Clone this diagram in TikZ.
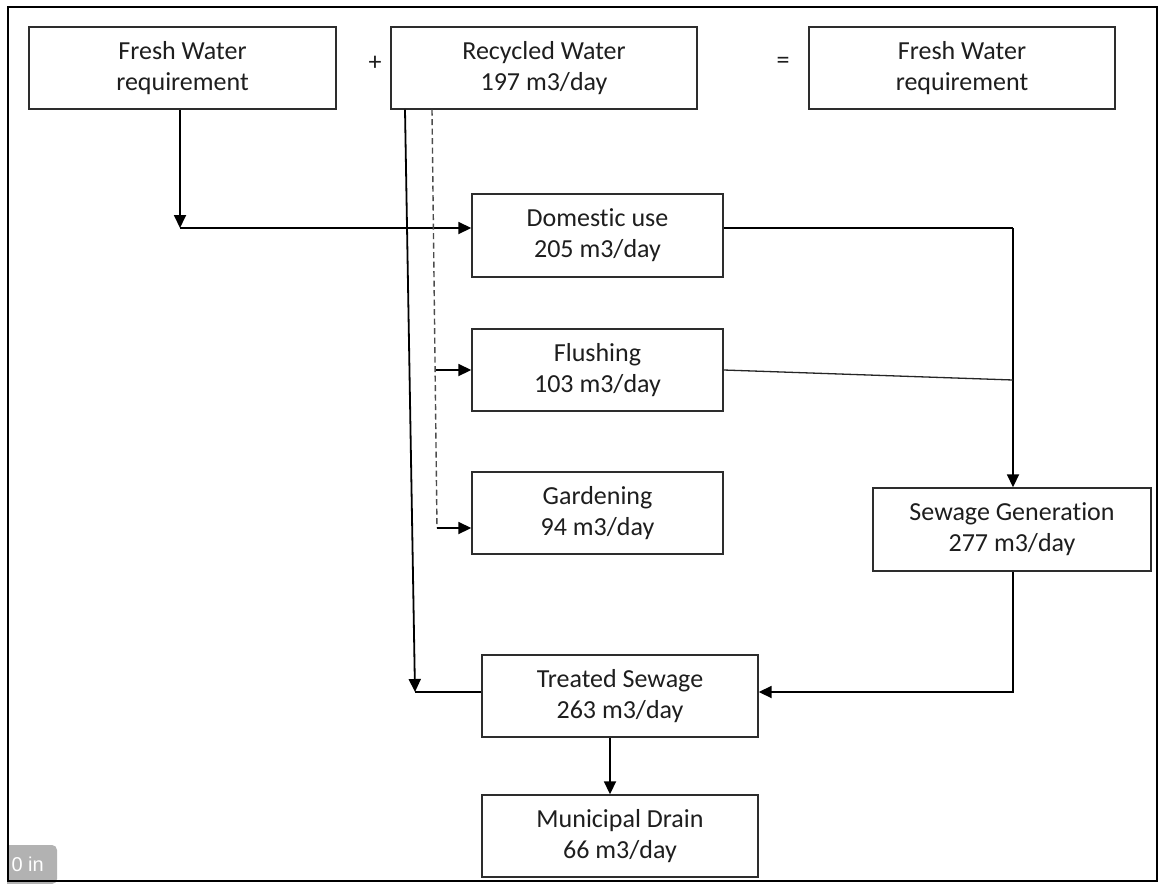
\documentclass[tikz,border=0pt]{standalone}
\usepackage{fontspec}
\setmainfont{Carlito}[Ligatures=NoCommon]
\newfontfamily\badgefont{Liberation Sans}
\usetikzlibrary{arrows.meta,calc}
\definecolor{ink}{RGB}{30,30,30}
\definecolor{boxline}{RGB}{45,45,45}
\definecolor{badge}{RGB}{178,178,178}
\begin{document}
\begin{tikzpicture}[x=1pt,y=-1pt,
  box/.style={draw=boxline,line width=1.4pt,rectangle,inner sep=0pt,align=center,
    text=ink,font=\fontsize{26}{31}\selectfont,minimum height=82pt},
  sym/.style={text=ink,font=\fontsize{26}{31}\selectfont,inner sep=0pt},
  conn/.style={draw=black,line width=1.8pt},
  arr/.style={conn,-{Triangle[length=13pt,width=12pt]}},
  thinconn/.style={draw=black!85,line width=1.3pt},
  dashline/.style={draw=black!70,line width=1.4pt,dash pattern=on 6pt off 3.5pt}]
\useasboundingbox (0,0) rectangle (1163,884);
\fill[white] (0,0) rectangle (1163,884);

% badge
\fill[badge,rounded corners=5pt] (0,845) rectangle (57,884);
\node[text=white,font=\badgefont\fontsize{20}{20}\selectfont,anchor=east,inner sep=0pt] (badgetext) at (44,864) {0 in};
\fill[white] (0,840) rectangle (7,884);

% frame
\draw[line width=2.5pt,black] (8,7) rectangle (1157,881);

% boxes
\node[box,minimum width=307pt] (fw1) at (182.5,68) {Fresh Water\\requirement};
\node[sym] (plus) at (375,63) {+};
\node[box,minimum width=306pt] (rw) at (544,68) {Recycled Water\\197 m3/day};
\node[sym] (eq) at (783,63) {=};
\node[box,minimum width=306pt] (fw2) at (962,68) {Fresh Water\\requirement};

\node[box,minimum width=251pt,minimum height=83pt] (dom) at (597.5,235.5) {Domestic use\\205 m3/day};
\node[box,minimum width=251pt] (flush) at (597.5,370) {Flushing\\103 m3/day};
\node[box,minimum width=251pt] (gard) at (597.5,513) {Gardening\\94 m3/day};
\node[box,minimum width=278pt,minimum height=83pt] (sew) at (1012,529.5) {Sewage Generation\\277 m3/day};
\node[box,minimum width=276pt] (treat) at (620,696) {Treated Sewage\\263 m3/day};
\node[box,minimum width=276pt] (muni) at (620,836) {Municipal Drain\\66 m3/day};

% junction points
\coordinate (c1) at (180,228);
\coordinate (j1) at (1013,228);
\coordinate (j2) at (1013,380);
\coordinate (j3) at (1013,692);
\coordinate (tm) at (610,766);
\coordinate (r1) at (405,109);
\coordinate (r2) at (415,692);
\coordinate (d0) at (432,109);
\coordinate (d1) at (436,370);
\coordinate (d2) at (437,528);

% fresh water to domestic
\draw[arr] (fw1.south -| c1) -- (c1);
\draw[arr] (c1) -- (c1 -| dom.west);

% domestic and flushing to sewage generation
\draw[conn,line width=1.6pt] (dom.east |- j1) -- (j1);
\draw[arr] (j1) -- (sew.north -| j1);
\draw[thinconn] (flush.east) -- (j2);

% sewage to treated
\draw[arr] (sew.south -| j3) -- (j3) -- (treat.east |- j3);

% treated to municipal drain
\draw[arr] (treat.south -| tm) -- (muni.north -| tm);

% recycled water solid line and treated sewage link
\draw[arr] (rw.south -| r1) -- (r2);
\draw[conn,line width=1.6pt] (treat.west |- r2) -- (r2);

% dashed recycled supply
\draw[dashline] (rw.south -| d0) -- (d2);
\draw[arr] (d1) -- (flush.west |- d1);
\draw[arr] (d2) -- (gard.west |- d2);
\end{tikzpicture}
\end{document}
